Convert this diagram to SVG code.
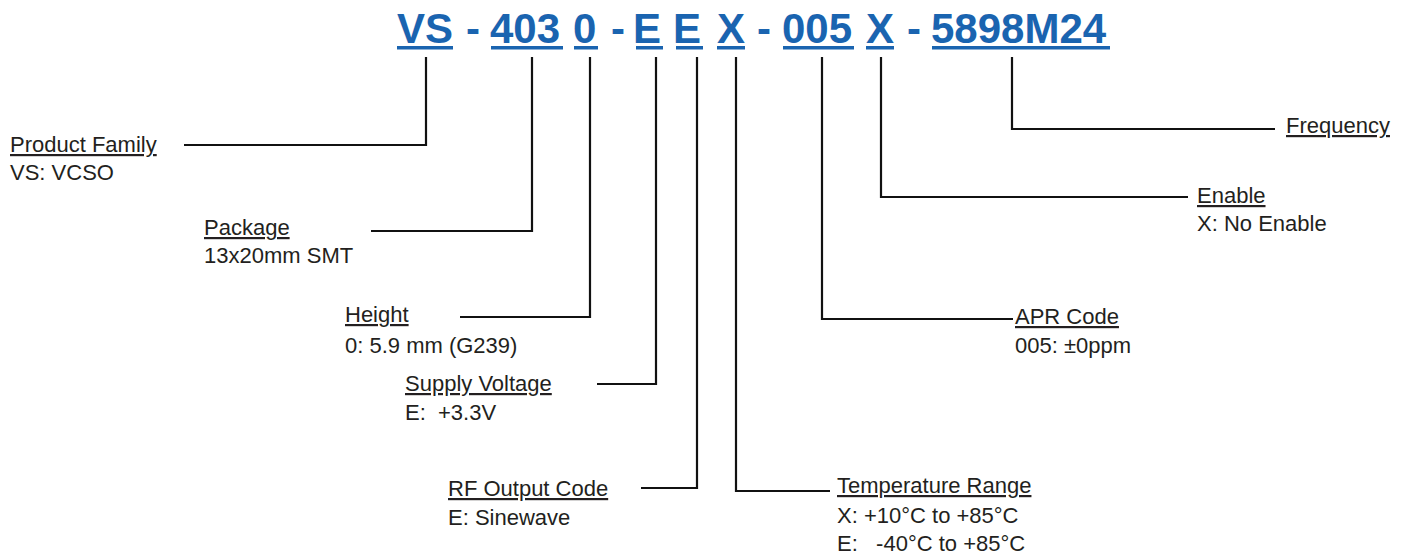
<svg xmlns="http://www.w3.org/2000/svg" width="1408" height="555" viewBox="0 0 1408 555">
<style>
.code{font-family:"Liberation Sans",Arial,sans-serif;font-weight:bold;font-size:42px;fill:#1a64b0}
.ul{fill:#1a64b0}
.lbl{font-family:"Liberation Sans",Arial,sans-serif;font-size:22px;fill:#231f20}
.head{text-decoration:underline}
.conn{fill:none;stroke:#111;stroke-width:2.2}
</style>
<rect width="1408" height="555" fill="#fff"/>
<g id="part-number">
<text class="code" y="43"><tspan x="397">VS</tspan><tspan x="466">-</tspan><tspan x="490">403</tspan><tspan x="573">0</tspan><tspan x="611">-</tspan><tspan x="633">E</tspan><tspan x="673">E</tspan><tspan x="717">X</tspan><tspan x="757">-</tspan><tspan x="782">005</tspan><tspan x="866">X</tspan><tspan x="907">-</tspan><tspan x="931">5898M24</tspan></text>
<rect class="ul" x="397" y="46" width="56" height="3.5"/>
<rect class="ul" x="491" y="46" width="72" height="3.5"/>
<rect class="ul" x="574" y="46" width="24" height="3.5"/>
<rect class="ul" x="636" y="46" width="27" height="3.5"/>
<rect class="ul" x="676" y="46" width="27" height="3.5"/>
<rect class="ul" x="717" y="46" width="28" height="3.5"/>
<rect class="ul" x="783" y="46" width="71" height="3.5"/>
<rect class="ul" x="866" y="46" width="28" height="3.5"/>
<rect class="ul" x="932" y="46" width="178" height="3.5"/>
</g>
<g id="connectors">
<path class="conn" d="M426,57 V145 H184"/>
<path class="conn" d="M532,57 V231 H371"/>
<path class="conn" d="M590,57 V317 H460"/>
<path class="conn" d="M656,57 V384 H597"/>
<path class="conn" d="M697,57 V488 H641"/>
<path class="conn" d="M736,57 V491 H830"/>
<path class="conn" d="M822,57 V319 H1013"/>
<path class="conn" d="M881,57 V197 H1188"/>
<path class="conn" d="M1012,57 V129 H1275"/>
</g>
<g id="product-family">
<text class="lbl" x="10" y="152"><tspan class="head">Product Family</tspan></text>
<text class="lbl" x="10" y="180">VS: VCSO</text>
</g>
<g id="package">
<text class="lbl" x="204" y="235"><tspan class="head">Package</tspan></text>
<text class="lbl" x="204" y="263">13x20mm SMT</text>
</g>
<g id="height">
<text class="lbl" x="345" y="322"><tspan class="head">Height</tspan></text>
<text class="lbl" x="345" y="353">0: 5.9 mm (G239)</text>
</g>
<g id="supply-voltage">
<text class="lbl" x="405" y="391"><tspan class="head">Supply Voltage</tspan></text>
<text class="lbl" x="405" y="420" xml:space="preserve">E:  +3.3V</text>
</g>
<g id="rf-output">
<text class="lbl" x="448" y="496"><tspan class="head">RF Output Code</tspan></text>
<text class="lbl" x="448" y="525">E: Sinewave</text>
</g>
<g id="temperature">
<text class="lbl" x="837" y="493"><tspan class="head">Temperature Range</tspan></text>
<text class="lbl" x="837" y="523">X: +10°C to +85°C</text>
<text class="lbl" x="837" y="551" xml:space="preserve">E:   -40°C to +85°C</text>
</g>
<g id="apr-code">
<text class="lbl" x="1015" y="324"><tspan class="head">APR Code</tspan></text>
<text class="lbl" x="1015" y="353">005: ±0ppm</text>
</g>
<g id="enable">
<text class="lbl" x="1197" y="203"><tspan class="head">Enable</tspan></text>
<text class="lbl" x="1197" y="231">X: No Enable</text>
</g>
<g id="frequency">
<text class="lbl" x="1286" y="133"><tspan class="head">Frequency</tspan></text>
</g>
</svg>
